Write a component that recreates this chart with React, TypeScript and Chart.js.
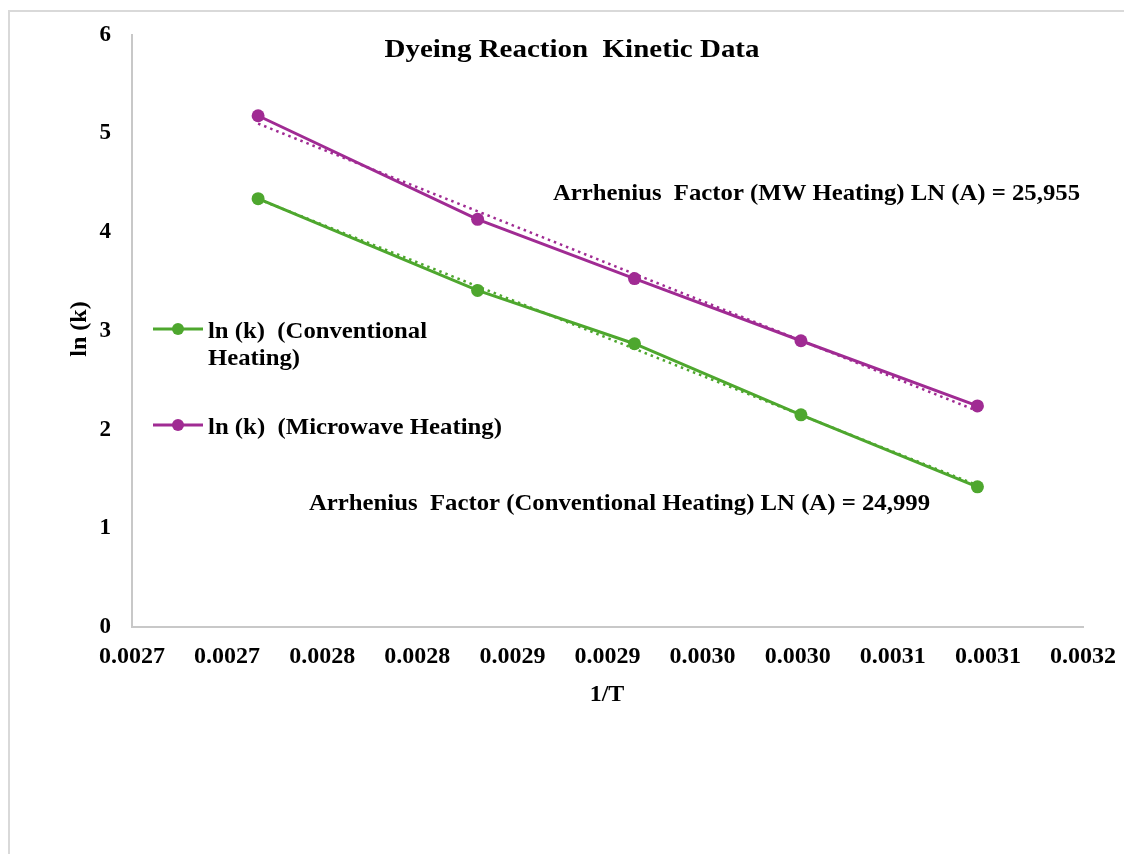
import React, { useEffect, useRef } from "react";
import { Chart, registerables } from "chart.js";

Chart.register(...registerables);

const invT = [0.0027163, 0.0028317, 0.0029142, 0.0030017, 0.0030945];
const lnkConventional = [4.34, 3.41, 2.87, 2.15, 1.42];
const lnkMicrowave = [5.18, 4.13, 3.53, 2.9, 2.24];
const xTickLabels = ["0.0027", "0.0027", "0.0028", "0.0028", "0.0029", "0.0029", "0.0030", "0.0030", "0.0031", "0.0031", "0.0032"];
const yTickLabels = ["0", "1", "2", "3", "4", "5", "6"];
const seriesNames = ["ln (k)  (Conventional", "Heating)", "ln (k)  (Microwave Heating)"];
const titleText = "Dyeing Reaction  Kinetic Data";
const mwNote = "Arrhenius  Factor (MW Heating) LN (A) = 25,955";
const convNote = "Arrhenius  Factor (Conventional Heating) LN (A) = 24,999";

const GREEN = "#4EA72E";
const PURPLE = "#A02B93";
const FONT = '"Liberation Serif", "Times New Roman", serif';

function linFit(xs: number[], ys: number[]) {
  const n = xs.length;
  const mx = xs.reduce((a, b) => a + b, 0) / n;
  const my = ys.reduce((a, b) => a + b, 0) / n;
  let sxy = 0, sxx = 0;
  for (let i = 0; i < n; i++) {
    sxy += (xs[i] - mx) * (ys[i] - my);
    sxx += (xs[i] - mx) * (xs[i] - mx);
  }
  const m = sxy / sxx;
  const b = my - m * mx;
  const x0 = Math.min(...xs), x1 = Math.max(...xs);
  return [{ x: x0, y: m * x0 + b }, { x: x1, y: m * x1 + b }];
}

function fitText(ctx: CanvasRenderingContext2D, text: string, x: number, y: number, size: number, width: number | null, align: CanvasTextAlign) {
  ctx.save();
  ctx.font = `bold ${size}px ${FONT}`;
  ctx.fillStyle = "#000";
  ctx.textBaseline = "alphabetic";
  const w = ctx.measureText(text).width;
  const sx = width ? width / w : 1;
  ctx.translate(x, y);
  ctx.scale(sx, 1);
  ctx.textAlign = align;
  ctx.fillText(text, 0, 0);
  ctx.restore();
}

const decorPlugin = {
  id: "decor",
  beforeDraw(chart: any) {
    const ctx = chart.ctx as CanvasRenderingContext2D;
    ctx.save();
    ctx.fillStyle = "#fff";
    ctx.fillRect(0, 0, chart.width, chart.height);
    ctx.strokeStyle = "#d9d9d9";
    ctx.lineWidth = 2;
    ctx.beginPath();
    ctx.moveTo(9, chart.height);
    ctx.lineTo(9, 11);
    ctx.lineTo(chart.width, 11);
    ctx.stroke();
    ctx.restore();
  },
  afterDraw(chart: any) {
    const ctx = chart.ctx as CanvasRenderingContext2D;
    fitText(ctx, titleText, 572, 57, 25, 375, "center");
    fitText(ctx, mwNote, 553, 200, 23, 527, "left");
    fitText(ctx, convNote, 309, 510, 23, 621, "left");
    // legend
    const items = [
      { color: GREEN, y: 329, lines: [seriesNames[0], seriesNames[1]], widths: [219, 92] },
      { color: PURPLE, y: 425, lines: [seriesNames[2]], widths: [294] },
    ];
    items.forEach((it) => {
      ctx.save();
      ctx.strokeStyle = it.color;
      ctx.lineWidth = 3;
      ctx.beginPath();
      ctx.moveTo(153, it.y);
      ctx.lineTo(203, it.y);
      ctx.stroke();
      ctx.fillStyle = it.color;
      ctx.beginPath();
      ctx.arc(178, it.y, 6, 0, Math.PI * 2);
      ctx.fill();
      ctx.restore();
      it.lines.forEach((ln, i) => {
        fitText(ctx, ln, 208, it.y + 8.5 + i * 27.7, 24, it.widths[i], "left");
      });
    });
    // axis titles
    ctx.save();
    ctx.font = `bold 24px ${FONT}`;
    ctx.fillStyle = "#000";
    ctx.textAlign = "center";
    ctx.textBaseline = "middle";
    ctx.fillText("1/T", 607, 695);
    ctx.translate(80, 329);
    ctx.rotate(-Math.PI / 2);
    ctx.fillText("ln (k)", 0, 0);
    ctx.restore();
  },
};

export default function App() {
  const ref = useRef<HTMLCanvasElement>(null);
  useEffect(() => {
    if (!ref.current) return;
    const conv = invT.map((x, i) => ({ x, y: lnkConventional[i] }));
    const mw = invT.map((x, i) => ({ x, y: lnkMicrowave[i] }));
    const chart = new Chart(ref.current, {
      type: "scatter",
      data: {
        datasets: [
          {
            label: "trend conv",
            data: linFit(invT, lnkConventional),
            showLine: true,
            borderColor: GREEN,
            borderWidth: 2.5,
            borderDash: [2.5, 4],
            pointRadius: 0,
          },
          {
            label: "trend mw",
            data: linFit(invT, lnkMicrowave),
            showLine: true,
            borderColor: PURPLE,
            borderWidth: 2.5,
            borderDash: [2.5, 4],
            pointRadius: 0,
          },
          {
            label: seriesNames[0] + " " + seriesNames[1],
            data: conv,
            showLine: true,
            borderColor: GREEN,
            backgroundColor: GREEN,
            borderWidth: 3,
            pointRadius: 6.5,
            pointBorderWidth: 0,
          },
          {
            label: seriesNames[2],
            data: mw,
            showLine: true,
            borderColor: PURPLE,
            backgroundColor: PURPLE,
            borderWidth: 3,
            pointRadius: 6.5,
            pointBorderWidth: 0,
          },
        ],
      },
      options: {
        animation: false,
        responsive: false,
        layout: { padding: { left: 0, top: 31, right: 41, bottom: 0 } },
        plugins: { legend: { display: false }, tooltip: { enabled: false }, title: { display: false } },
        scales: {
          x: {
            type: "linear",
            min: 0.00265,
            max: 0.00315,
            grid: { display: false, drawTicks: false },
            border: { color: "#c8c8c8", width: 2 },
            ticks: {
              stepSize: 0.00005,
              padding: 15,
              color: "#000",
              font: { family: FONT, size: 24, weight: "bold" },
              maxRotation: 0,
              autoSkip: false,
              callback: (_v: any, i: number) => xTickLabels[i],
            },
            afterFit: (s: any) => {
              s.height = 227;
              s.paddingRight = 0;
              s.paddingLeft = 0;
            },
          },
          y: {
            min: 0,
            max: 6,
            grid: { display: false, drawTicks: false },
            border: { color: "#c8c8c8", width: 2 },
            ticks: {
              stepSize: 1,
              padding: 21,
              color: "#000",
              font: { family: FONT, size: 23, weight: "bold" },
              callback: (_v: any, i: number) => yTickLabels[i],
            },
            afterFit: (s: any) => { s.width = 132; },
          },
        },
      },
      plugins: [decorPlugin],
    } as any);
    return () => chart.destroy();
  }, []);
  return (
    <div style={{ position: "fixed", left: 0, top: 0, width: 1124, height: 854 }}>
      <canvas ref={ref} width={1124} height={854} style={{ width: 1124, height: 854 }} />
    </div>
  );
}
